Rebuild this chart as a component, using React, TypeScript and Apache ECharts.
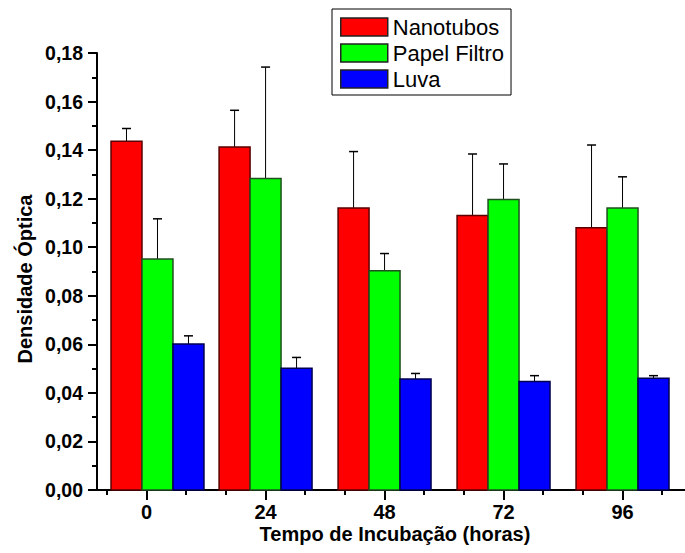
import React, { useEffect, useRef } from "react";
import * as echarts from "echarts";

// Data
const hours = [0, 24, 48, 72, 96];
const groupPositions = [2.2, 24, 48, 72, 96];
const minorTickHours = [-8, 8, 16, 32, 40, 56, 64, 80, 88, 104];
const yTicks = [0, 0.02, 0.04, 0.06, 0.08, 0.1, 0.12, 0.14, 0.16, 0.18];

const seriesNames = ["Nanotubos", "Papel Filtro", "Luva"];
const nanotubos = [0.1437, 0.1413, 0.1162, 0.1131, 0.108];
const nanotubosErr = [0.0052, 0.0151, 0.0232, 0.0253, 0.0341];
const papelFiltro = [0.0951, 0.1283, 0.0903, 0.1197, 0.1162];
const papelFiltroErr = [0.0166, 0.0459, 0.0071, 0.0146, 0.0128];
const luva = [0.0601, 0.0501, 0.0457, 0.0447, 0.046];
const luvaErr = [0.0034, 0.0045, 0.0023, 0.0024, 0.0011];

const FONT = "'Liberation Sans', Arial, Helvetica, sans-serif";
const fills = ["#ff0000", "#00ff00", "#0000ff"];
const borders = ["#5a0000", "#1f4f1f", "#000050"];
const BAR_W = 6.25; // hours
const offsets = [-BAR_W, 0, BAR_W];

export default function App() {
  const ref = useRef<HTMLDivElement>(null);
  useEffect(() => {
    document.body.style.margin = "0";
    if (!ref.current) return;
    const chart = echarts.init(ref.current, undefined, { renderer: "svg" });
    const values = [nanotubos, papelFiltro, luva];
    const errs = [nanotubosErr, papelFiltroErr, luvaErr];
    const grid = { left: 97, right: 0, top: 53, bottom: 63 };
    const series = seriesNames.map((name, si) => ({
      type: "custom",
      name,
      xAxisIndex: 0,
      yAxisIndex: 0,
      itemStyle: { color: fills[si], borderColor: borders[si] },
      data: hours.map((_, i) => [groupPositions[i], values[si][i], errs[si][i]]),
      renderItem: (params: any, api: any) => {
        const x = api.value(0) + offsets[si];
        const v = api.value(1);
        const e = api.value(2);
        const top = api.coord([x, v]);
        const base = api.coord([x, 0]);
        const et = api.coord([x, v + e]);
        const w = api.size([BAR_W, 0])[0];
        return {
          type: "group",
          children: [
            {
              type: "line",
              shape: { x1: top[0], y1: top[1], x2: top[0], y2: et[1] },
              style: { stroke: "#000", lineWidth: 1 },
            },
            {
              type: "line",
              shape: { x1: top[0] - 4.5, y1: et[1], x2: top[0] + 4.5, y2: et[1] },
              style: { stroke: "#000", lineWidth: 1.5 },
            },
            {
              type: "rect",
              shape: { x: top[0] - w / 2, y: top[1], width: w, height: base[1] - top[1] },
              style: { fill: fills[si], stroke: borders[si], lineWidth: 1.5 },
            },
          ],
        };
      },
    }));
    chart.setOption({
      animation: false,
      backgroundColor: "#fff",
      grid: [grid, grid],
      legend: {
        orient: "vertical",
        left: 332,
        top: 9,
        padding: [7, 7, 5, 8],
        itemWidth: 47,
        itemHeight: 18,
        itemGap: 4,
        icon: "rect",
        borderColor: "#000",
        borderWidth: 1,
        textStyle: { fontFamily: FONT, fontSize: 22, color: "#000" },
        data: seriesNames.map((n, i) => ({
          name: n,
          itemStyle: { color: fills[i], borderColor: "#222", borderWidth: 1.5 },
        })),
      },
      xAxis: [
        {
          type: "value",
          gridIndex: 0,
          min: -10,
          max: 108.6,
          axisLine: { show: true, onZero: false, lineStyle: { color: "#000", width: 2 } },
          axisTick: { show: true, length: 10, customValues: hours, lineStyle: { color: "#000", width: 2 } },
          axisLabel: {
            show: true,
            customValues: hours,
            margin: 13.5,
            lineHeight: 16,
            fontFamily: FONT,
            fontSize: 20,
            fontWeight: "bold",
            color: "#000",
          },
          splitLine: { show: false },
        },
        {
          type: "value",
          gridIndex: 1,
          min: -10,
          max: 108.6,
          axisLine: { show: false, onZero: false },
          axisTick: { show: true, length: 5, customValues: minorTickHours, lineStyle: { color: "#000", width: 2 } },
          axisLabel: { show: false, customValues: minorTickHours },
          splitLine: { show: false },
        },
      ],
      yAxis: [
        {
          type: "value",
          gridIndex: 0,
          min: 0,
          max: 0.18,
          interval: 0.02,
          axisLine: { show: true, onZero: false, lineStyle: { color: "#000", width: 2 } },
          axisTick: { show: true, length: 9, lineStyle: { color: "#000", width: 2 } },
          minorTick: { show: true, splitNumber: 2, length: 5, lineStyle: { color: "#000", width: 2 } },
          axisLabel: {
            margin: 14,
            fontFamily: FONT,
            fontSize: 19.5,
            fontWeight: "bold",
            color: "#000",
            customValues: yTicks,
            formatter: (v: number) => v.toFixed(2).replace(".", ","),
          },
          splitLine: { show: false },
          minorSplitLine: { show: false },
        },
        { type: "value", gridIndex: 1, min: 0, max: 0.18, show: false, axisLine: { onZero: false } },
      ],
      graphic: [
        {
          type: "text",
          x: 395,
          y: 534,
          style: {
            text: "Tempo de Incubação (horas)",
            font: `bold 20px ${FONT}`,
            lineHeight: 16,
            fill: "#000",
            textAlign: "center",
            textVerticalAlign: "middle",
          },
        },
        {
          type: "text",
          x: 25,
          y: 279,
          rotation: Math.PI / 2,
          style: {
            text: "Densidade Óptica",
            font: `bold 20px ${FONT}`,
            fill: "#000",
            textAlign: "center",
            textVerticalAlign: "middle",
          },
        },
      ],
      series,
    });
    return () => chart.dispose();
  }, []);
  return <div ref={ref} style={{ width: 685, height: 553 }} />;
}
